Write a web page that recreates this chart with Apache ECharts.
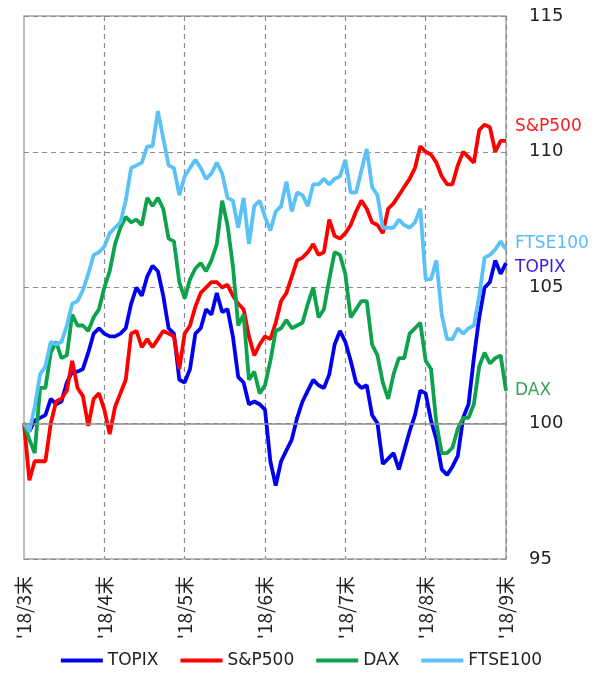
<!DOCTYPE html>
<html>
<head>
<meta charset="utf-8">
<script src="https://cdn.jsdelivr.net/npm/echarts@6/dist/echarts.min.js"></script>
<style>
html,body{margin:0;padding:0;background:#fff;}
#chart{width:603px;height:680px;}
</style>
</head>
<body>
<div id="chart"></div>
<script>
// 2018/3末 = 100, 15 points per month
var monthLabels = ["'18/3末","'18/4末","'18/5末","'18/6末","'18/7末","'18/8末","'18/9末"];
var yTicks = [95,100,105,110,115];

var topix = [100.0,99.7,100.1,100.2,100.3,100.9,100.7,100.8,101.5,101.9,101.9,102.0,102.6,103.3,103.5,
	103.3,103.2,103.2,103.3,103.5,104.4,105.0,104.7,105.4,105.8,105.6,104.7,103.5,103.3,101.6,
	101.5,102.0,103.3,103.5,104.2,104.0,104.8,104.1,104.2,103.2,101.7,101.5,100.7,100.8,100.7,
	100.5,98.6,97.7,98.6,99.0,99.4,100.2,100.8,101.2,101.6,101.4,101.3,101.8,102.9,103.4,
	103.0,102.3,101.5,101.3,101.4,100.3,100.0,98.5,98.7,98.9,98.3,99.0,99.7,100.3,101.2,
	101.1,100.1,99.4,98.3,98.1,98.4,98.8,100.2,100.7,102.4,103.9,105.0,105.2,106.0,105.5,105.9];

var sp500 = [100.0,97.9,98.6,98.6,98.6,100.0,100.8,100.9,101.2,102.3,101.3,101.0,99.9,100.9,101.1,
	100.5,99.6,100.6,101.1,101.6,103.3,103.4,102.8,103.1,102.8,103.1,103.4,103.3,103.2,102.0,
	103.3,103.6,104.3,104.8,105.0,105.2,105.2,105.0,105.1,104.7,104.4,104.2,103.2,102.5,102.9,
	103.2,103.1,103.7,104.5,104.8,105.4,106.0,106.1,106.3,106.6,106.2,106.3,107.5,106.9,106.8,
	107.0,107.3,107.8,108.2,107.9,107.4,107.3,107.0,107.9,108.1,108.4,108.7,109.0,109.4,110.2,
	110.0,109.9,109.6,109.1,108.8,108.8,109.5,110.0,109.8,109.6,110.8,111.0,110.9,110.0,110.4,110.4];

var dax = [100.0,99.4,98.9,101.3,101.3,102.6,103.0,102.4,102.5,104.0,103.6,103.6,103.4,103.9,104.2,
	105.0,105.6,106.6,107.2,107.6,107.4,107.5,107.3,108.3,108.0,108.3,107.9,106.8,106.7,105.2,
	104.6,105.3,105.7,105.9,105.6,106.0,106.6,108.2,107.3,105.8,103.6,104.0,101.6,101.9,101.1,
	101.4,102.3,103.4,103.5,103.8,103.5,103.6,103.7,104.4,105.0,103.9,104.2,105.3,106.3,106.2,
	105.5,103.9,104.2,104.5,104.5,102.9,102.5,101.5,100.9,101.8,102.4,102.4,103.3,103.5,103.7,
	102.3,102.0,100.0,98.9,98.9,99.1,99.8,100.2,100.2,100.7,102.1,102.6,102.2,102.4,102.5,101.2];

var ftse100 = [100.0,99.7,100.6,101.8,102.1,103.0,102.9,103.0,103.6,104.4,104.5,104.9,105.5,106.2,106.3,
	106.5,107.0,107.2,107.4,108.2,109.4,109.5,109.6,110.2,110.2,111.5,110.5,109.5,109.4,108.4,
	109.1,109.4,109.7,109.4,109.0,109.2,109.6,109.2,108.3,108.2,107.2,108.3,106.6,108.0,108.2,
	107.6,107.1,107.8,108.0,108.9,107.8,108.5,108.4,108.0,108.8,108.8,109.0,108.8,109.0,109.1,
	109.7,108.5,108.5,109.3,110.1,108.7,108.4,107.2,107.2,107.2,107.5,107.3,107.2,107.4,107.9,
	105.3,105.3,106.0,104.0,103.1,103.1,103.5,103.3,103.5,103.6,104.7,106.1,106.2,106.4,106.7,106.4];

var days = [];
for(var i = 0; i < topix.length; i++){
	days.push(i);
}
var perMonth = 15;

var seriesList = [
	{name:'TOPIX', data:topix, color:'#0000ee', labelColor:'#3a1fd6', dy:5},
	{name:'S&P500', data:sp500, color:'#ff0000', labelColor:'#ff1a1a', dy:-14},
	{name:'DAX', data:dax, color:'#0da24b', labelColor:'#3aa35a', dy:0},
	{name:'FTSE100', data:ftse100, color:'#5bc2f7', labelColor:'#5bbcf5', dy:-6}
];

var isMonth = function(index){
	return index % perMonth === 0;
};

var myChart = echarts.init(document.getElementById('chart'));

var series = [];
for(var k = 0; k < seriesList.length; k++){
	var s = seriesList[k];
	var item = {
		name:s.name,
		type:'line',
		data:s.data,
		symbol:'none',
		lineStyle:{width:3.8, color:s.color},
		itemStyle:{color:s.color},
		endLabel:{
			show:true,
			formatter:'{a}',
			distance:9,
			offset:[0, s.dy],
			color:s.labelColor,
			fontSize:17,
			fontFamily:'DejaVu Sans'
		}
	};
	if(k === 0){
		item.markLine = {
			silent:true,
			symbol:'none',
			label:{show:false},
			lineStyle:{color:'#8c8c8c', type:'solid', width:1.5},
			data:[{yAxis:100}]
		};
	}
	series.push(item);
}

var option = {
	animation:false,
	grid:{
		left:24, right:97, top:16, bottom:121,
		show:true, borderColor:'#a6a6a6', borderWidth:1.5
	},
	legend:{
		bottom:6,
		left:'center',
		icon:'rect',
		itemWidth:42,
		itemHeight:4,
		itemGap:22,
		textStyle:{fontSize:17, color:'#222', fontFamily:'DejaVu Sans'},
		data:['TOPIX','S&P500','DAX','FTSE100']
	},
	xAxis:{
		type:'category',
		boundaryGap:false,
		data:days,
		axisLine:{show:false},
		axisTick:{show:false},
		axisLabel:{
			interval:function(index){ return isMonth(index); },
			rotate:90,
			margin:17,
			fontSize:19,
			color:'#222',
			fontFamily:'Noto Sans CJK JP',
			formatter:function(v, index){
				return isMonth(index) ? monthLabels[index / perMonth] : '';
			}
		},
		splitLine:{
			show:true,
			interval:function(index){ return isMonth(index) && index > 0; },
			lineStyle:{color:'#8c8c8c', type:[5,4], width:1.2}
		}
	},
	yAxis:{
		type:'value',
		position:'right',
		min:yTicks[0],
		max:yTicks[yTicks.length - 1],
		interval:5,
		axisLine:{show:false},
		axisTick:{show:false},
		axisLabel:{
			margin:23,
			fontSize:18,
			color:'#222',
			fontFamily:'DejaVu Sans'
		},
		splitLine:{
			show:true,
			lineStyle:{color:'#8c8c8c', type:[5,4], width:1.2}
		}
	},
	series:series
};

myChart.setOption(option);
</script>
</body>
</html>
